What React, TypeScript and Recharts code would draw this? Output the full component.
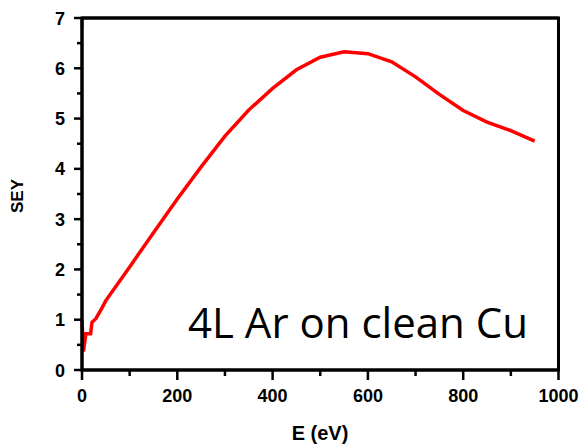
import { LineChart, Line, XAxis, YAxis, ReferenceLine } from "recharts";

const energy = [0, 3, 8, 18, 21, 29, 40, 50, 100, 150, 200, 250, 300, 350, 400, 450, 500, 550, 600, 650, 700, 750, 800, 850, 900, 950];
const sey = [1.0, 0.37, 0.72, 0.72, 0.95, 1.02, 1.2, 1.38, 2.05, 2.73, 3.4, 4.04, 4.65, 5.17, 5.6, 5.97, 6.22, 6.33, 6.29, 6.13, 5.83, 5.48, 5.16, 4.93, 4.76, 4.55];

const xTicks = [0, 100, 200, 300, 400, 500, 600, 700, 800, 900, 1000];
const yTicks = [0, 0.5, 1, 1.5, 2, 2.5, 3, 3.5, 4, 4.5, 5, 5.5, 6, 6.5, 7];

const data = energy.map((e, i) => ({ e, sey: sey[i] }));

const FONT = "'Liberation Sans', Arial, sans-serif";

// plot box, set by the margins and axis sizes below
const W = 582;
const H = 444;
const M = { top: 17, right: 22.5, bottom: 24, left: 0 };
const PLOT = { left: 82, top: 18, right: W - 22.5 - 1, bottom: H - 24 - 50 };

const isMajorX = (v: number) => v % 200 === 0;
const isMajorY = (v: number) => Number.isInteger(v);

const BottomTick = ({ x, y, payload }: any) => {
    const major = isMajorX(payload.value);
    return (
        <g>
            <line x1={x} y1={y} x2={x} y2={y + (major ? 10 : 6)} stroke="#000" strokeWidth={2.5} />
            {major && (
                <text x={x} y={y + 32} textAnchor="middle" fontFamily={FONT} fontWeight="bold" fontSize={18} fill="#000">
                    {payload.value}
                </text>
            )}
        </g>
    );
};

const TopTick = ({ x, y, payload }: any) => {
    const major = isMajorX(payload.value);
    return <line x1={x} y1={y} x2={x} y2={y + (major ? 9 : 5)} stroke="#000" strokeWidth={2.5} />;
};

const LeftTick = ({ x, y, payload }: any) => {
    const major = isMajorY(payload.value);
    return (
        <g>
            <line x1={x} y1={y} x2={x - (major ? 8 : 5)} y2={y} stroke="#000" strokeWidth={2.5} />
            {major && (
                <text x={x - 17} y={y + 6.5} textAnchor="end" fontFamily={FONT} fontWeight="bold" fontSize={18} fill="#000">
                    {payload.value}
                </text>
            )}
        </g>
    );
};

const RightTick = ({ x, y, payload }: any) => {
    const major = isMajorY(payload.value);
    return <line x1={x} y1={y} x2={x - (major ? 9 : 5)} y2={y} stroke="#000" strokeWidth={2.5} />;
};

const frame = { stroke: "#000", strokeWidth: 3 };

export default function App() {
    return (
        <div style={{ position: "absolute", left: 0, top: 0, width: W, height: H, background: "#fff" }}>
            <LineChart width={W} height={H} data={data} margin={M}>
                <XAxis
                    dataKey="e"
                    type="number"
                    domain={[0, 1000]}
                    ticks={xTicks}
                    interval={0}
                    height={50}
                    tickSize={0}
                    tickMargin={0}
                    tickLine={false}
                    tick={<BottomTick />}
                    axisLine={false}
                />
                <XAxis
                    xAxisId="top"
                    orientation="top"
                    type="number"
                    domain={[0, 1000]}
                    ticks={xTicks}
                    interval={0}
                    height={1}
                    tickSize={0}
                    tickMargin={0}
                    tickLine={false}
                    tick={<TopTick />}
                    axisLine={false}
                />
                <YAxis
                    type="number"
                    domain={[0, 7]}
                    ticks={yTicks}
                    interval={0}
                    width={82}
                    tickSize={0}
                    tickMargin={0}
                    tickLine={false}
                    tick={<LeftTick />}
                    axisLine={false}
                />
                <YAxis
                    yAxisId="right"
                    orientation="right"
                    type="number"
                    domain={[0, 7]}
                    ticks={yTicks}
                    interval={0}
                    width={1}
                    tickSize={0}
                    tickMargin={0}
                    tickLine={false}
                    tick={<RightTick />}
                    axisLine={false}
                />
                <Line
                    type="linear"
                    dataKey="sey"
                    stroke="#ff0000"
                    strokeWidth={3.5}
                    dot={false}
                    isAnimationActive={false}
                />
                <ReferenceLine x={0} {...frame} ifOverflow="visible" />
                <ReferenceLine x={1000} {...frame} ifOverflow="visible" />
                <ReferenceLine y={0} {...frame} ifOverflow="visible" />
                <ReferenceLine y={7} {...frame} ifOverflow="visible" />
            </LineChart>
            <svg width={W} height={H} style={{ position: "absolute", left: 0, top: 0, pointerEvents: "none" }}>
                {/* plot frame */}
                <rect
                    x={PLOT.left}
                    y={PLOT.top}
                    width={PLOT.right - PLOT.left}
                    height={PLOT.bottom - PLOT.top}
                    fill="none"
                    stroke="#000"
                    strokeWidth={3}
                />
                <text
                    x={17}
                    y={196}
                    transform="rotate(-90 17 196)"
                    textAnchor="middle"
                    dominantBaseline="central"
                    fontFamily={FONT}
                    fontWeight="bold"
                    fontSize={17}
                    fill="#000"
                >
                    SEY
                </text>
                <text x={320} y={440} textAnchor="middle" fontFamily={FONT} fontWeight="bold" fontSize={20} fill="#000">
                    E (eV)
                </text>
                <text x={188} y={338} fontFamily="'Open Sans', sans-serif" fontSize={42} fill="#000">
                    4L Ar on clean Cu
                </text>
            </svg>
        </div>
    );
}
